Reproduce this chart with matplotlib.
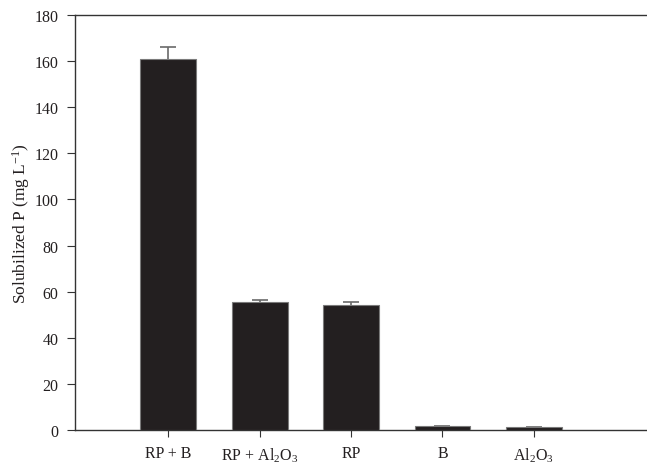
import matplotlib
matplotlib.use("Agg")
import matplotlib.pyplot as plt

plt.rcParams['font.family'] = ['Liberation Serif', 'DejaVu Serif']
plt.rcParams['mathtext.fontset'] = 'custom'
plt.rcParams['mathtext.rm'] = 'Liberation Serif'
plt.rcParams['mathtext.it'] = 'Liberation Serif:italic'

# values
treatments = ["RP + B", "RP + Al$_2$O$_3$", "RP", "B", "Al$_2$O$_3$"]
solubilized_p = [160.8, 55.4, 54.2, 1.6, 1.2]
std_err = [5.2, 1.1, 1.4, 0.2, 0.2]

fig = plt.figure(figsize=(6.47, 4.64), dpi=100)
ax = fig.add_axes([0.116, 0.071, 0.904, 0.8945])

x = list(range(len(treatments)))
# error bars behind the bars so only the upper half shows
ax.errorbar(x, solubilized_p, yerr=std_err, fmt='none', ecolor="#6a6a6a",
            elinewidth=1.2, capsize=6, capthick=1.2, zorder=2)
ax.bar(x, solubilized_p, width=0.61, color="#231f20", edgecolor="#7a7a7a",
       linewidth=0.8, zorder=3)

ax.set_xlim(-1.02, 5.38)
ax.set_ylim(0, 180)
ax.set_yticks(range(0, 181, 20))
ax.set_xticks(x)
ax.set_xticklabels(treatments, fontsize=11.5, color="#231f20")
ax.tick_params(axis='y', labelsize=11.5, labelcolor="#231f20", direction='out',
               length=6, color="#333333", pad=6)
ax.tick_params(axis='x', direction='out', length=5, color="#333333", pad=6)
for s in ax.spines.values():
    s.set_color("#333333")
    s.set_linewidth(1.0)
ax.set_ylabel("Solubilized P (mg L$^{-1}$)", fontsize=12.5, color="#231f20", labelpad=2)

fig.savefig("out.png", dpi=100)
